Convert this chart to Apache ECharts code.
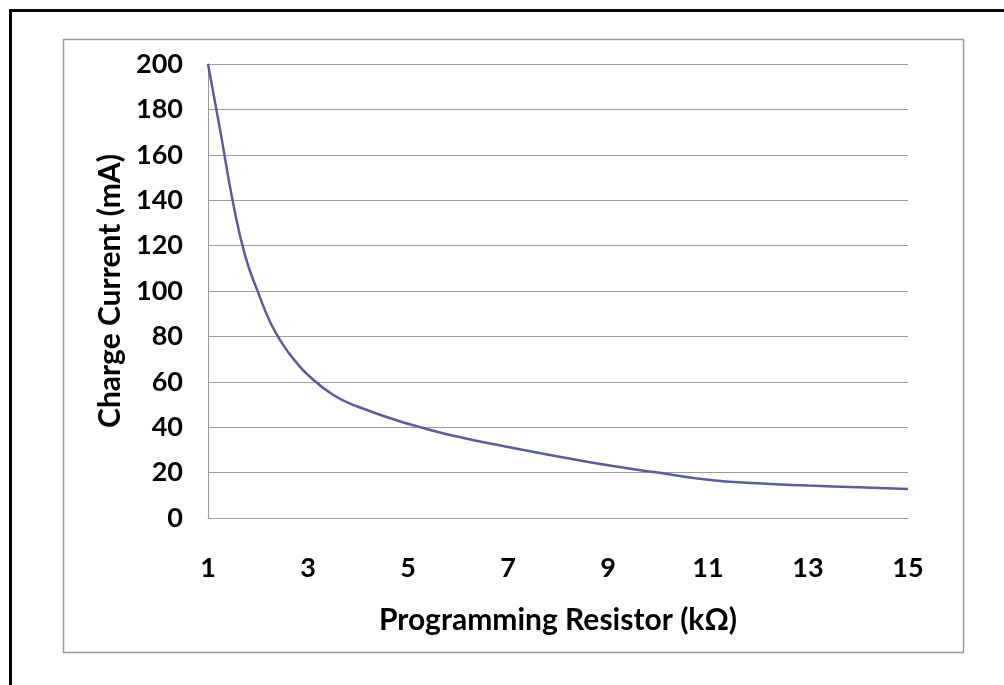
<!DOCTYPE html>
<html>
<head>
<meta charset="utf-8">
<script src="https://cdn.jsdelivr.net/npm/echarts@6/dist/echarts.min.js"></script>
<style>
html,body{margin:0;padding:0;background:#fff;}
#c{width:1004px;height:685px;}
</style>
</head>
<body>
<div id="c"></div>
<script>
const resistance = [1, 1.25, 1.5, 1.75, 2, 2.25, 2.5, 2.75, 3, 3.5, 4, 5, 6, 7, 8, 9, 10, 11, 12, 13, 14, 15];
const chargeCurrent = [200, 170, 139, 115, 99.5, 86, 76.4, 69, 63, 54.3, 49, 41.5, 35.8, 31.3, 27.1, 23.2, 20, 16.9, 15.3, 14.3, 13.5, 12.8];
const xTickLabels = [1, 3, 5, 7, 9, 11, 13, 15];
const yTicks = {min: 0, max: 200, step: 20};
const xTitle = 'Programming Resistor (kΩ)';
const yTitle = 'Charge Current (mA)';

const FONT = 'Lato';
const points = resistance.map((r, i) => [r, chargeCurrent[i]]);
const chart = echarts.init(document.getElementById('c'));
chart.setOption({
  animation: false,
  backgroundColor: '#fff',
  graphic: [
    {type: 'rect', shape: {x: 10.5, y: 10.5, width: 1100, height: 800},
     style: {fill: 'none', stroke: '#000', lineWidth: 3}},
    {type: 'rect', shape: {x: 63.5, y: 39.5, width: 900, height: 613},
     style: {fill: 'none', stroke: '#9a9a9a', lineWidth: 1.5}}
  ],
  grid: {left: 208, right: 96, top: 64, bottom: 167, containLabel: false},
  xAxis: {
    type: 'value',
    min: xTickLabels[0],
    max: xTickLabels[xTickLabels.length - 1],
    name: xTitle,
    nameLocation: 'middle',
    nameGap: 87,
    nameTextStyle: {fontFamily: FONT, fontWeight: 'bold', fontSize: 30, color: '#000'},
    axisLine: {show: true, lineStyle: {color: '#9a9a9a', width: 1}},
    axisTick: {show: false},
    axisLabel: {customValues: xTickLabels, margin: 37, fontFamily: FONT, fontWeight: 'bold', fontSize: 27, color: '#000'},
    splitLine: {show: false}
  },
  yAxis: {
    type: 'value',
    min: yTicks.min, max: yTicks.max, interval: yTicks.step,
    name: yTitle,
    nameLocation: 'middle',
    nameGap: 80,
    nameRotate: 90,
    nameTextStyle: {fontFamily: FONT, fontWeight: 'bold', fontSize: 30, color: '#000'},
    axisLine: {show: true, lineStyle: {color: '#9a9a9a', width: 1}},
    axisTick: {show: false},
    axisLabel: {margin: 25, fontFamily: FONT, fontWeight: 'bold', fontSize: 27, color: '#000'},
    splitLine: {show: true, lineStyle: {color: '#9a9a9a', width: 1}}
  },
  series: [{
    type: 'line',
    data: points,
    smooth: 0.5,
    symbol: 'none',
    lineStyle: {color: '#5a5c9c', width: 2.5}
  }]
});
</script>
</body>
</html>
